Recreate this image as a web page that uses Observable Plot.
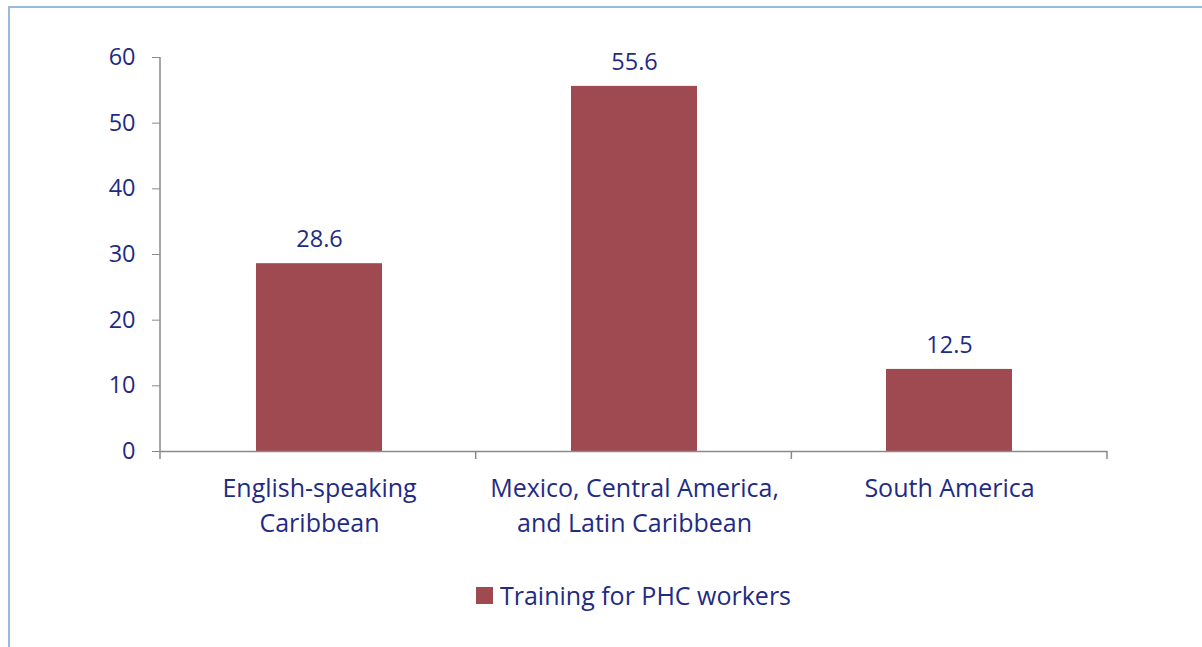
<!DOCTYPE html>
<html><head><meta charset="utf-8">
<script src="https://cdn.jsdelivr.net/npm/d3@7"></script>
<script src="https://cdn.jsdelivr.net/npm/@observablehq/plot@0.6"></script>
<style>
html,body{margin:0;padding:0;background:#fff;}
body{width:1202px;height:647px;overflow:hidden;position:relative;font-family:"Open Sans",sans-serif;}
#frame{position:absolute;left:8px;top:6px;width:1300px;height:700px;border-left:2px solid #9bb9de;border-top:2px solid #9bb9de;}
#chart{position:absolute;left:0;top:0;}
#legend{position:absolute;left:160px;width:947px;top:578px;display:flex;justify-content:center;align-items:center;color:#1f2b84;font-size:25px;line-height:34px;}
#legend .sw{width:17px;height:17px;background:#9f4a50;margin-right:7px;}
</style></head>
<body>
<div id="frame"></div>
<div id="chart"></div>
<div id="legend"><span class="sw"></span><span id="legtext"></span></div>
<script>
const categories = ["English-speaking\nCaribbean", "Mexico, Central America,\nand Latin Caribbean", "South America"];
const values = [28.6, 55.6, 12.5];
const seriesName = "Training for PHC workers";
const yTicks = [0, 10, 20, 30, 40, 50, 60];

const textColor = "#1f2b84";
const barColor = "#9f4a50";
const axisColor = "#8a8a8a";
const fs = 23.5;
const fsLabel = 25;

const data = categories.map((c, i) => ({category: c, value: values[i]}));

const plot = Plot.plot({
  width: 1202,
  height: 560,
  marginLeft: 160,
  marginRight: 95,
  marginTop: 57,
  marginBottom: 109,
  style: {fontFamily: "'Open Sans', sans-serif", fontSize: fs + "px", color: textColor, background: "transparent", overflow: "visible"},
  x: {domain: categories, paddingInner: 0.6, paddingOuter: 0.3, axis: null},
  y: {domain: [0, 60], axis: null},
  marks: [
    Plot.barY(data, {x: "category", y: "value", fill: barColor}),
    Plot.ruleY([0], {stroke: axisColor, strokeWidth: 1.5}),
    Plot.axisY({ticks: yTicks, tickSize: 8, tickPadding: 17, stroke: axisColor, fill: textColor, fontSize: fs, label: null, tickFormat: d => String(d)}),
    Plot.axisX({tickSize: 0, tickPadding: 21, fill: textColor, fontSize: fsLabel, lineHeight: 1.4, label: null}),
    Plot.text(data, {x: "category", y: "value", text: d => d.value.toFixed(1), dy: -24, fill: textColor, fontSize: fs})
  ]
});
document.getElementById("chart").appendChild(plot);
document.getElementById("legtext").textContent = seriesName;

// y-axis line and category boundary ticks, derived from Plot's scales
const xs = plot.scale("x");
const ys = plot.scale("y");
const svg = d3.select(plot);
const left = xs.range[0], right = xs.range[1];
const y0 = ys.range[0], y1 = ys.range[1];
const g = svg.append("g").attr("stroke", axisColor).attr("stroke-width", 1.5);
g.append("line").attr("x1", left).attr("x2", left).attr("y1", y0).attr("y2", y1);
const step = (right - left) / categories.length;
d3.range(categories.length + 1).forEach(i => {
  const x = left + i * step;
  g.append("line").attr("x1", x).attr("x2", x).attr("y1", y0).attr("y2", y0 + 8);
});
</script>
</body></html>
